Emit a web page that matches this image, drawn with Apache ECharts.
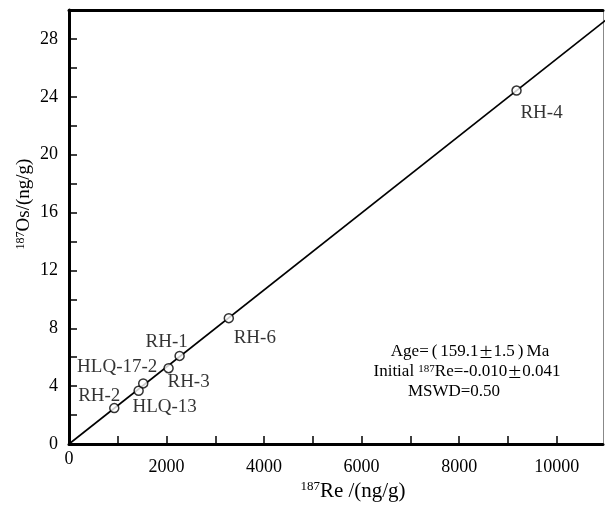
<!DOCTYPE html>
<html>
<head>
<meta charset="utf-8">
<script src="https://cdn.jsdelivr.net/npm/echarts@6/dist/echarts.min.js"></script>
<style>html,body{margin:0;padding:0;background:#fff}#c{width:605px;height:508px}</style>
</head>
<body>
<div id="c"></div>
<script>
// Sample names, 187Re (ng/g), 187Os (ng/g)
var sampleNames = ['RH-2', 'HLQ-13', 'HLQ-17-2', 'RH-3', 'RH-1', 'RH-6', 'RH-4'];
var reValues = [928, 1428, 1522, 2042, 2268, 3277, 9177];
var osValues = [2.48, 3.68, 4.19, 5.24, 6.09, 8.70, 24.43];
// Isochron line end points [Re, Os]
var isochronLine = [[0, 0], [11000, 29.28]];
// Tick labels
var xTickLabels = [0, 2000, 4000, 6000, 8000, 10000];
var yTickLabels = [0, 4, 8, 12, 16, 20, 24, 28];

var labelOffsets = [[-15, -12], [26, 16], [-26, -16], [20, 14], [-13, -14], [26, 20], [25, 22]];
var serif = '"Liberation Serif", "DejaVu Serif", serif';
var cjk = '"Noto Sans CJK SC", sans-serif';

var pts = sampleNames.map(function (n, i) {
  return {
    name: n,
    value: [reValues[i], osValues[i]],
    label: { show: true, position: 'inside', offset: labelOffsets[i], formatter: n, color: '#000', fontFamily: serif, fontSize: 19 }
  };
});

var pm = '{pm|±}';
var annoRich = {
  m: { fontFamily: serif, fontSize: 17, color: '#000' },
  pm: { fontFamily: cjk, fontSize: 15, color: '#000' },
  p: { fontFamily: serif, fontSize: 17, color: '#000', padding: [0, 3, 0, 3] },
  s: { fontFamily: serif, fontSize: 11, color: '#000', verticalAlign: 'top', padding: [0, 0, 6, 0] }
};

var chart = echarts.init(document.getElementById('c'), null, { renderer: 'canvas' });
chart.setOption({
  animation: false,
  backgroundColor: '#fff',
  grid: { left: 69, right: 2, top: 10, bottom: 64 },
  xAxis: [{
    type: 'value', min: 0, max: 10950, interval: 1000,
    axisLine: { show: true, lineStyle: { color: '#000', width: 3 } },
    axisTick: { show: true, inside: true, length: 8, lineStyle: { color: '#000', width: 1.5 } },
    splitLine: { show: false },
    axisLabel: {
      margin: 6, color: '#000', fontFamily: serif, fontSize: 18,
      showMaxLabel: false,
      formatter: function (v) {
        if (v === 0) return '{z|0}';
        return xTickLabels.indexOf(v) >= 0 ? '{n|' + v + '}' : '';
      },
      rich: {
        z: { fontFamily: serif, fontSize: 18, color: '#000' },
        n: { fontFamily: serif, fontSize: 18, color: '#000', padding: [8, 0, 0, 0] }
      }
    }
  }, {
    type: 'value', position: 'top', min: 0, max: 10950,
    axisLine: { show: true, onZero: false, lineStyle: { color: '#000', width: 3 } },
    axisTick: { show: false }, axisLabel: { show: false }, splitLine: { show: false }
  }],
  yAxis: [{
    type: 'value', min: 0, max: 30, interval: 2,
    axisLine: { show: true, lineStyle: { color: '#000', width: 3 } },
    axisTick: { show: true, inside: true, length: 8, lineStyle: { color: '#000', width: 1.5 } },
    splitLine: { show: false },
    axisLabel: {
      margin: 11, color: '#000', fontFamily: serif, fontSize: 18,
      formatter: function (v) { return yTickLabels.indexOf(v) >= 0 ? String(v) : ''; }
    }
  }, {
    type: 'value', position: 'right', min: 0, max: 30,
    axisLine: { show: true, onZero: false, lineStyle: { color: '#888', width: 1 } },
    axisTick: { show: false }, axisLabel: { show: false }, splitLine: { show: false }
  }],
  series: [{
    type: 'line', data: isochronLine, symbol: 'none', clip: true,
    lineStyle: { color: '#000', width: 1.6 }, z: 2
  }, {
    type: 'scatter', data: pts, symbol: 'circle', symbolSize: 9,
    itemStyle: { color: '#fff', borderColor: '#000', borderWidth: 1.5 },
    label: { color: '#000', fontFamily: serif, fontSize: 19 },
    z: 3
  }],
  graphic: [
    {
      type: 'text', x: 353, y: 491,
      style: {
        text: '{s|187}{m|Re /(ng/g)}', x: 0, y: 0, align: 'center', verticalAlign: 'middle',
        rich: {
          s: { fontFamily: serif, fontSize: 13, color: '#000', verticalAlign: 'top', padding: [0, 0, 6, 0] },
          m: { fontFamily: serif, fontSize: 21, color: '#000' }
        }
      }
    },
    {
      type: 'text', x: 24, y: 204, rotation: Math.PI / 2,
      style: {
        text: '{s|187}{m|Os/(ng/g)}', x: 0, y: 0, align: 'center', verticalAlign: 'middle',
        rich: {
          s: { fontFamily: serif, fontSize: 12, color: '#000', verticalAlign: 'top', padding: [0, 0, 6, 0] },
          m: { fontFamily: serif, fontSize: 19, color: '#000' }
        }
      }
    },
    {
      type: 'text', x: 470, y: 352,
      style: {
        text: '{m|Age=}{p|(}{m|159.1}' + pm + '{m|1.5}{p|)}{m|Ma}',
        align: 'center', verticalAlign: 'middle', rich: annoRich
      }
    },
    {
      type: 'text', x: 467, y: 372,
      style: {
        text: '{m|Initial }{s|187}{m|Re=-0.010}' + pm + '{m|0.041}',
        align: 'center', verticalAlign: 'middle', rich: annoRich
      }
    },
    {
      type: 'text', x: 454, y: 392,
      style: { text: '{m|MSWD=0.50}', align: 'center', verticalAlign: 'middle', rich: annoRich }
    }
  ]
});
</script>
</body>
</html>
